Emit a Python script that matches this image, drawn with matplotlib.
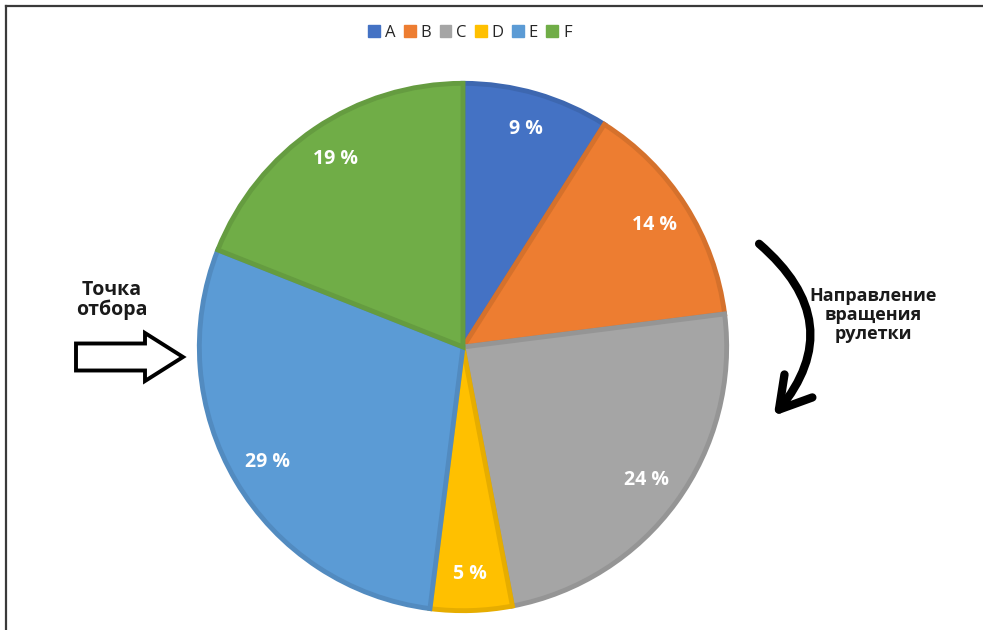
import matplotlib.pyplot as plt
import matplotlib.patches as mpatches
from matplotlib.lines import Line2D
from matplotlib.colors import to_rgb

plt.rcParams['font.family'] = ['Open Sans', 'DejaVu Sans']

labels = ['A', 'B', 'C', 'D', 'E', 'F']
shares = [9, 14, 24, 5, 29, 19]
colors = ['#4472C4', '#ED7D31', '#A5A5A5', '#FFC000', '#5B9BD5', '#70AD47']

W, H = 983, 630
fig = plt.figure(figsize=(W / 100, H / 100), dpi=100)

# pie axes: centre (463, 347) px, radius 265 px
cx, cy, r = 463, 347, 265
ax = fig.add_axes([(cx - r) / W, (H - cy - r) / H, 2 * r / W, 2 * r / H])


def darker(c, k=0.9):
    return tuple(v * k for v in to_rgb(c))


wedges, texts, autotexts = ax.pie(
    shares, colors=colors, startangle=90, counterclock=False,
    autopct=lambda p: f'{p:.0f} %', pctdistance=0.86,
    wedgeprops=dict(linewidth=3.5), radius=0.995,
    textprops=dict(color='white', fontsize=14, fontweight='bold'))
for w, c in zip(wedges, colors):
    w.set_edgecolor(darker(c))
ax.set_xlim(-1, 1)
ax.set_ylim(-1, 1)
ax.set_aspect('auto')
ax.axis('off')

# legend along the top
handles = [mpatches.Patch(color=c, label=l) for c, l in zip(colors, labels)]
fig.legend(handles=handles, loc='center', bbox_to_anchor=(470 / W, 1 - 33 / H),
           ncol=6, frameon=False, fontsize=12, handlelength=0.7, handleheight=0.7,
           handletextpad=0.3, columnspacing=0.5, labelcolor='#262626')

# frame lines on the left and top
fig.add_artist(Line2D([6 / W, 6 / W], [0, 1 - 6 / H], color='#3a3a3a', lw=1.6))
fig.add_artist(Line2D([6 / W, 1], [1 - 6 / H, 1 - 6 / H], color='#3a3a3a', lw=1.6))

# selection point arrow
fig.text(112 / W, 1 - 300 / H, 'Точка\nотбора', ha='center', va='center',
         fontsize=14, fontweight='bold', color='#1a1a1a', linespacing=1.0)
pick = mpatches.FancyArrow(76 / W, 1 - 357 / H, 107 / W, 0, width=27 / H,
                           head_width=48 / H, head_length=38 / W,
                           length_includes_head=True, transform=fig.transFigure,
                           facecolor='white', edgecolor='black', lw=2.8)
fig.add_artist(pick)

# rotation direction arrow
spin = mpatches.FancyArrowPatch((757 / W, 1 - 242 / H), (772 / W, 1 - 418 / H),
                                transform=fig.transFigure,
                                connectionstyle='arc3,rad=-0.5',
                                arrowstyle='->,head_length=22,head_width=13',
                                color='black', lw=6, mutation_scale=1)
fig.add_artist(spin)
fig.text(873 / W, 1 - 315 / H, 'Направление\nвращения\nрулетки', ha='center',
         va='center', fontsize=13, fontweight='bold', color='#1a1a1a', linespacing=1.05)

fig.savefig('out.png', dpi=100)
